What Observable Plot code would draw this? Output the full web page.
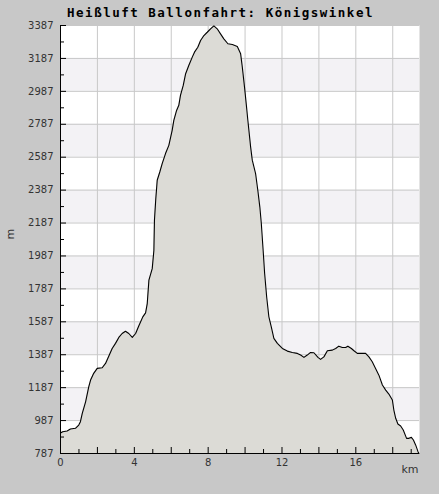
<!DOCTYPE html>
<html>
<head>
<meta charset="utf-8">
<script src="https://cdn.jsdelivr.net/npm/d3@7"></script>
<script src="https://cdn.jsdelivr.net/npm/@observablehq/plot@0.6"></script>
<style>
  html, body { margin: 0; padding: 0; background: #c8c8c8; }
  #wrap { position: relative; width: 439px; height: 494px; }
  #title {
    position: absolute; top: 0; left: 0; width: 439px; height: 25px;
    text-align: center; font-family: "DejaVu Sans Mono", monospace;
    font-weight: bold; font-size: 12.5px; letter-spacing: 1.5px;
    line-height: 25px; color: #000; z-index: 2; padding-left: 1px;
  }
</style>
</head>
<body>
<div id="wrap">
  <div id="title">Heißluft Ballonfahrt: Königswinkel</div>
  <div id="chart"></div>
</div>
<script>
const title = "Heißluft Ballonfahrt: Königswinkel";
const distanceKm = [0,0.12,0.36,0.54,0.81,0.99,1.08,1.18,1.36,1.53,1.63,1.80,1.99,2.26,2.44,2.62,2.80,2.98,3.16,3.34,3.52,3.70,3.89,4.07,4.24,4.46,4.61,4.70,4.79,4.97,5.06,5.09,5.16,5.24,5.38,5.51,5.69,5.87,6.05,6.14,6.29,6.41,6.50,6.65,6.78,6.95,7.14,7.26,7.44,7.59,7.77,7.95,8.13,8.31,8.49,8.67,8.85,9.07,9.31,9.58,9.76,9.85,9.97,10.08,10.15,10.30,10.39,10.57,10.69,10.80,10.88,10.99,11.06,11.17,11.29,11.42,11.56,11.75,12.02,12.29,12.56,12.83,13.01,13.19,13.37,13.55,13.73,13.95,14.09,14.27,14.46,14.73,14.91,15.08,15.27,15.45,15.57,15.76,15.90,16.08,16.53,16.71,16.89,17.07,17.25,17.44,17.62,17.79,17.98,18.06,18.16,18.28,18.43,18.57,18.75,18.88,19.01,19.12,19.24,19.37,19.42];
const elevationM = [911,919,924,936,940,960,980,1031,1101,1192,1233,1274,1304,1308,1334,1379,1425,1456,1492,1516,1530,1516,1492,1516,1561,1617,1641,1698,1840,1910,2022,2204,2330,2447,2497,2548,2609,2659,2750,2811,2871,2902,2962,3023,3094,3144,3195,3225,3255,3296,3326,3346,3367,3385,3367,3336,3306,3276,3272,3260,3215,3134,3013,2891,2811,2650,2569,2487,2386,2284,2184,2002,1880,1738,1617,1556,1486,1456,1425,1409,1401,1395,1385,1371,1385,1401,1399,1371,1359,1374,1411,1415,1425,1439,1431,1431,1439,1425,1411,1395,1395,1374,1344,1304,1263,1203,1172,1148,1112,1051,1001,966,954,930,879,879,885,869,839,798,787];
const yTicks = [787,987,1187,1387,1587,1787,1987,2187,2387,2587,2787,2987,3187,3387];
const yMinorTicks = [887,1087,1287,1487,1687,1887,2087,2287,2487,2687,2887,3087,3287];
const xTicks = [0,4,8,12,16];
const xGridTicks = [0,2,4,6,8,10,12,14,16,18];
const xMinorTicks = [1,3,5,7,9,11,13,15,17,19];
const xMax = 19.45;
const yLabel = "m";
const xLabel = "km";

const data = distanceKm.map((km, i) => ({km, m: elevationM[i]}));
const yMin = yTicks[0];
const bands = yTicks.slice(0, -1).map((v, i) => ({y1: v, y2: yTicks[i + 1], odd: i % 2 === 1}))
  .filter(b => b.odd);
const plain = d => String(d);

const chart = Plot.plot({
  width: 439,
  height: 494,
  marginLeft: 60,
  marginRight: 20,
  marginTop: 25,
  marginBottom: 41,
  style: {background: "#c8c8c8", fontFamily: "DejaVu Sans", fontSize: "10px", color: "#333"},
  x: {domain: [0, xMax]},
  y: {domain: [yTicks[0], yTicks[yTicks.length - 1]]},
  marks: [
    Plot.frame({fill: "white", stroke: null}),
    Plot.rect(bands, {x1: 0, x2: xMax, y1: "y1", y2: "y2", fill: "#f3f2f5"}),
    Plot.gridY(yTicks, {stroke: "#c8c8c8", strokeOpacity: 1}),
    Plot.gridX(xGridTicks, {stroke: "#c8c8c8", strokeOpacity: 1}),
    Plot.areaY(data, {x: "km", y1: yMin, y2: "m", fill: "#dcdbd6"}),
    Plot.line(data, {x: "km", y: "m", stroke: "#000", strokeWidth: 1.1}),
    Plot.axisY(yTicks, {anchor: "left", tickSize: 0, tickPadding: 7, label: null, fill: "#333", tickFormat: plain}),
    Plot.axisY(yTicks, {anchor: "left", tickSize: -6, tickFormat: () => "", label: null, stroke: "#000"}),
    Plot.axisY(yMinorTicks, {anchor: "left", tickSize: -4, tickFormat: () => "", label: null, stroke: "#000"}),
    Plot.axisX(xTicks, {anchor: "bottom", tickSize: 0, tickPadding: 5, label: null, fill: "#333", tickFormat: plain}),
    Plot.axisX(xGridTicks, {anchor: "bottom", tickSize: -6, tickFormat: () => "", label: null, stroke: "#000"}),
    Plot.axisX(xMinorTicks, {anchor: "bottom", tickSize: -4, tickFormat: () => "", label: null, stroke: "#000"}),
    Plot.ruleX([0], {stroke: "#000"}),
    Plot.ruleY([yMin], {stroke: "#000"}),
    Plot.text([yLabel], {frameAnchor: "left", dx: -50, rotate: -90, fill: "#333", fontSize: 11}),
    Plot.text([xLabel], {frameAnchor: "bottom-right", dx: -1, dy: 19, textAnchor: "end", fill: "#333", fontSize: 11})
  ]
});
document.getElementById("chart").appendChild(chart);
</script>
</body>
</html>
